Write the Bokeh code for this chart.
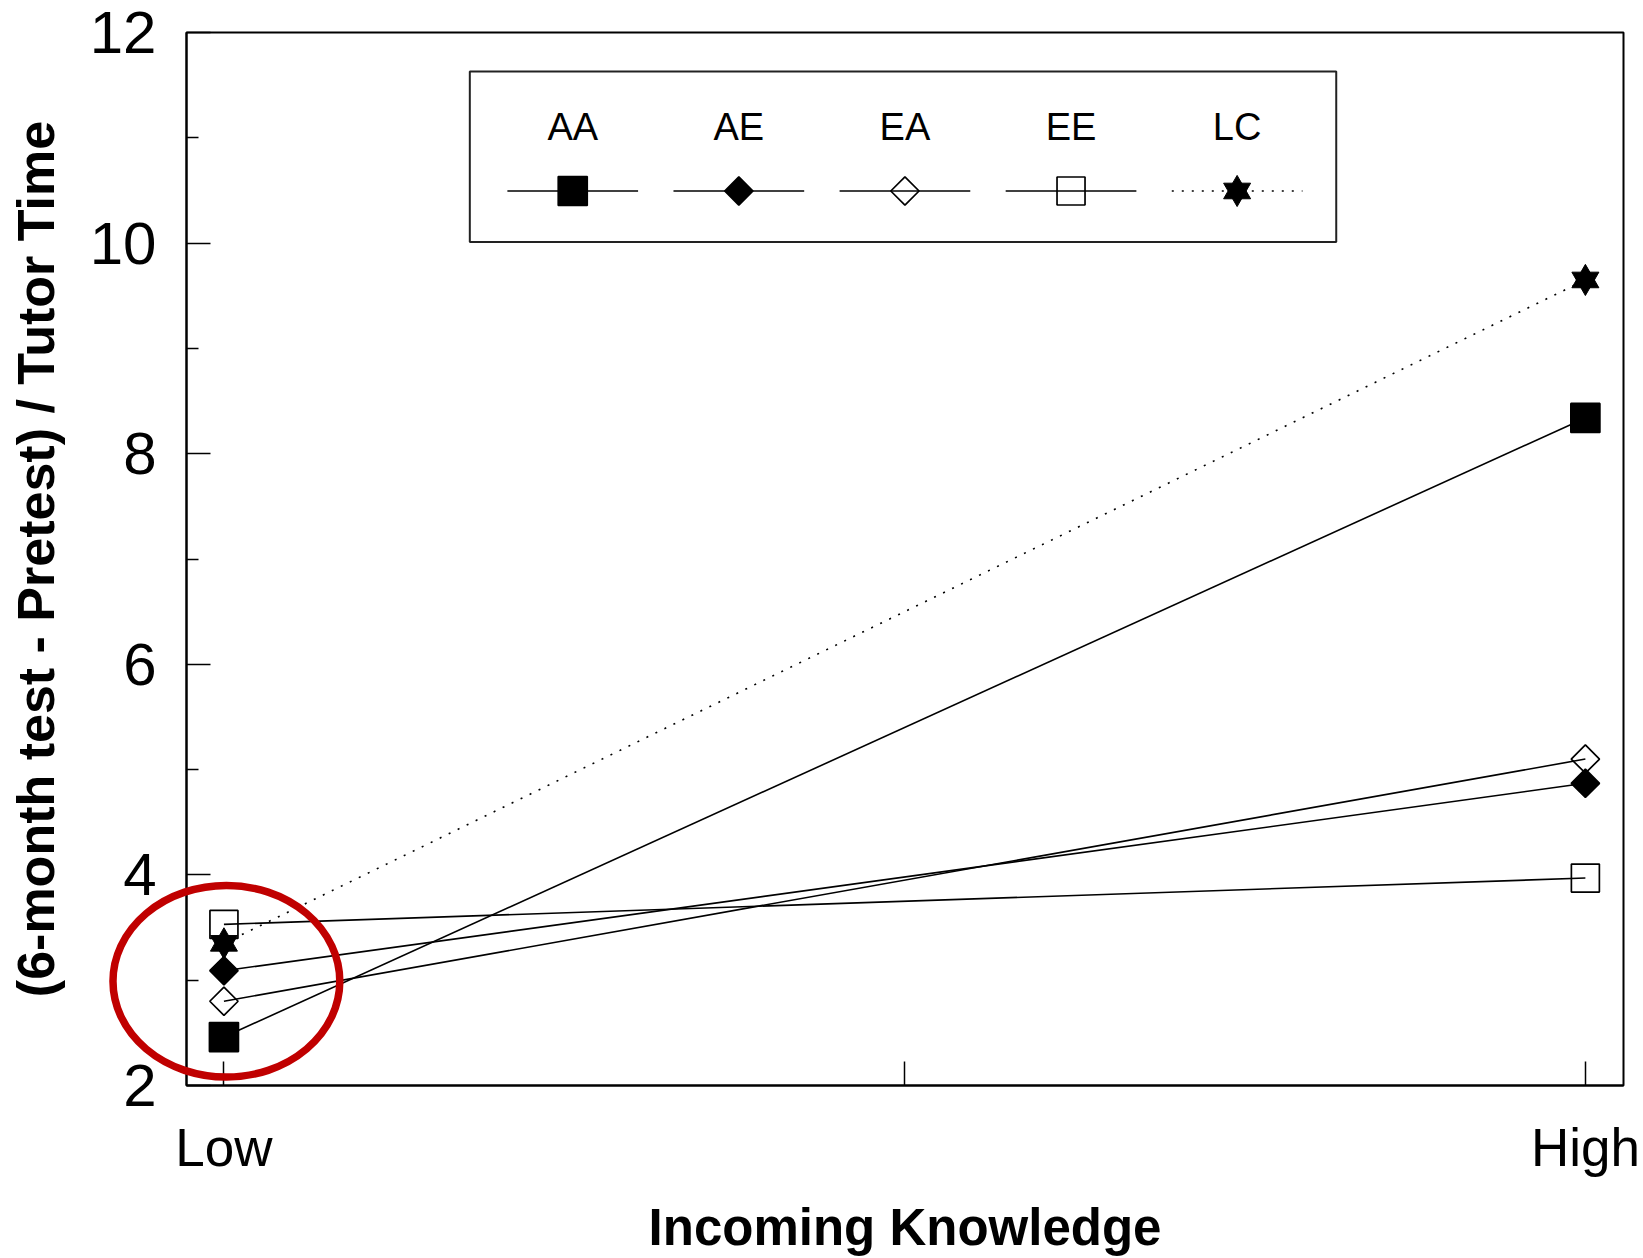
import numpy as np
from bokeh.plotting import figure
from bokeh.models import FixedTicker, Range1d
from bokeh.core.properties import value
from bokeh.embed import file_html
from bokeh.resources import INLINE

# ---- data -------------------------------------------------------------
groups = ["AA", "AE", "EA", "EE", "LC"]
low_scores = [2.46, 3.09, 2.80, 3.53, 3.35]     # Low incoming knowledge
high_scores = [8.34, 4.87, 5.10, 3.97, 9.65]    # High incoming knowledge
knowledge_pos = [0, 1]
knowledge_labels = ["Low", "High"]
y_major = [2, 4, 6, 8, 10, 12]
y_minor = [3, 5, 7, 9, 11]

FONT = "Liberation Sans"
BLACK = "black"

# marker style for each group
styles = {
    "AA": dict(kind="square", size=29, angle=0.0, filled=True),
    "AE": dict(kind="square", size=20, angle=np.pi / 4, filled=True),
    "EA": dict(kind="square", size=20, angle=np.pi / 4, filled=False),
    "EE": dict(kind="square", size=28, angle=0.0, filled=False),
    "LC": dict(kind="hexagram", size=27, angle=0.0, filled=True),
}
dashes = {"LC": "2 8"}

p = figure(
    width=1643, height=1258,
    x_range=Range1d(-0.0275, 1.028), y_range=Range1d(2, 12),
    output_backend="svg", toolbar_location=None,
    min_border_left=186, min_border_right=20,
    min_border_top=32, min_border_bottom=166,
)
p.background_fill_color = "white"
p.border_fill_color = "white"
p.outline_line_color = BLACK
p.outline_line_width = 2
p.grid.visible = False


def draw_marker(x, y, name):
    st = styles[name]
    fill = BLACK if st["filled"] else None
    if st["kind"] == "hexagram":
        for m in ("triangle", "inverted_triangle"):
            p.scatter(x, y, marker=m, size=st["size"], fill_color=fill,
                      line_color=BLACK, line_width=1)
    else:
        p.scatter(x, y, marker=st["kind"], size=st["size"], angle=st["angle"],
                  fill_color=fill, line_color=BLACK, line_width=1.7)


# ---- series -----------------------------------------------------------
for name, lo, hi in zip(groups, low_scores, high_scores):
    p.line(knowledge_pos, [lo, hi], line_color=BLACK, line_width=1.6,
           line_dash=dashes.get(name, "solid"))
for name, lo, hi in zip(groups, low_scores, high_scores):
    draw_marker(knowledge_pos, [lo, hi], name)

# ---- legend (labels above line samples) --------------------------------
leg_left, leg_right, leg_bottom, leg_top = 0.1806, 0.817, 10.01, 11.63
p.quad(left=[leg_left], right=[leg_right], bottom=[leg_bottom], top=[leg_top],
       fill_color="white", line_color="#222222", line_width=2)
leg_x0, leg_dx, half = 0.2562, 0.1220, 0.048
leg_sample_y, leg_text_y = 10.495, 11.10
for i, name in enumerate(groups):
    cx = leg_x0 + i * leg_dx
    p.line([cx - half, cx + half], [leg_sample_y, leg_sample_y], line_color=BLACK,
           line_width=1.7, line_dash=dashes.get(name, "solid"))
    draw_marker([cx], [leg_sample_y], name)
    p.text([cx], [leg_text_y], text=[name], text_font=value(FONT),
           text_font_size="38px", text_align="center",
           text_baseline="alphabetic", text_color=BLACK)

# ---- highlight ring around the Low end (drawn above the axes) ------------
p.ellipse(x=[0.0018], y=[2.99], width=[0.1666], height=[1.82],
          fill_color=None, line_color="#C00000", line_width=7.5, level="overlay")

# ---- axes -------------------------------------------------------------
xa = p.xaxis[0]
xa.ticker = FixedTicker(ticks=knowledge_pos, minor_ticks=[0.5])
xa.major_label_overrides = {k: v for k, v in zip(knowledge_pos, knowledge_labels)}
xa.axis_label = "Incoming Knowledge"

ya = p.yaxis[0]
ya.ticker = FixedTicker(ticks=y_major, minor_ticks=y_minor)
ya.axis_label = "(6-month test - Pretest) / Tutor Time"

for ax in (xa, ya):
    ax.axis_line_color = BLACK
    ax.axis_line_width = 2
    ax.major_tick_in = 24
    ax.major_tick_out = 0
    ax.major_tick_line_width = 1.5
    ax.major_tick_line_color = BLACK
    ax.minor_tick_out = 0
    ax.minor_tick_line_width = 1.5
    ax.minor_tick_line_color = BLACK
    ax.major_label_text_font = FONT
    ax.major_label_text_color = BLACK
    ax.axis_label_text_font = FONT
    ax.axis_label_text_font_style = "bold"
    ax.axis_label_text_color = BLACK

xa.minor_tick_in = 24
xa.major_label_text_font_size = "53px"
xa.major_label_standoff = 32
xa.axis_label_standoff = 19
xa.axis_label_text_font_size = "51px"

ya.minor_tick_in = 12
ya.major_label_text_font_size = "60px"
ya.major_label_standoff = 30
ya.axis_label_standoff = 22
ya.axis_label_text_font_size = "52px"

open("out.html", "w").write(file_html(p, INLINE))
